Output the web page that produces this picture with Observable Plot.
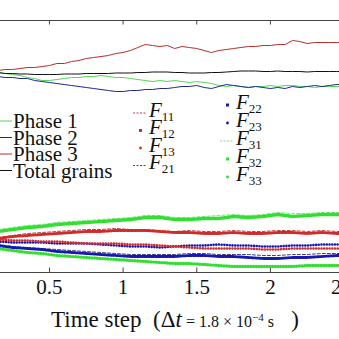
<!DOCTYPE html>
<html><head><meta charset="utf-8">
<script src="https://cdn.jsdelivr.net/npm/d3@7"></script>
<script src="https://cdn.jsdelivr.net/npm/@observablehq/plot@0.6"></script>
<style>
html,body{margin:0;padding:0;background:#fff;overflow:hidden;}
#cap{font-family:"Liberation Serif",serif;font-size:23px;height:37px;line-height:30px;padding-left:51px;white-space:nowrap;color:#111;}
#cap .s{font-size:16px;}
#cap sup{font-size:11px;}
svg text{font-family:"Liberation Serif",serif;}
</style></head><body>
<div id="chart"></div>
<div id="cap">Time step&nbsp;&nbsp;(Δ<i>t</i><span class="s"> = 1.8 × 10<sup>−4</sup> s</span>&nbsp;&nbsp;&nbsp;)</div>
<script>
// time grids
const topTime = d3.range(48).map(i => +(0.15 + 0.05 * i).toFixed(2));
const lowTime = d3.range(25).map(i => +(0.15 + 0.1 * i).toFixed(2));
const xTicks = [0.5, 1, 1.5, 2, 2.5];

// upper group (arbitrary units)
const phase1 = [20.0,19.9,19.8,19.7,19.5,19.4,19.2,19.2,19.3,19.4,19.5,19.5,19.6,19.6,19.7,19.6,19.5,19.5,19.4,19.3,19.2,19.1,19.2,19.1,19.2,19.1,19.0,19.1,19.0,18.9,18.7,18.6,18.7,18.6,18.5,18.6,18.6,18.7,18.6,18.7,18.7,18.6,18.6,18.5,18.6,18.6,18.6,18.6];
const phase2 = [19.6,19.5,19.5,19.4,19.4,19.2,19.1,19.0,18.9,18.8,18.7,18.6,18.5,18.4,18.3,18.2,18.1,18.1,18.2,18.2,18.3,18.3,18.4,18.4,18.5,18.6,18.6,18.7,18.5,18.4,18.6,18.8,18.7,18.6,18.5,18.6,18.5,18.4,18.5,18.4,18.6,18.5,18.6,18.7,18.6,18.7,18.8,18.8];
const phase3 = [20.2,20.3,20.3,20.4,20.5,20.5,20.6,20.7,20.9,20.9,21.1,21.2,21.4,21.5,21.6,21.7,21.9,22.0,22.2,22.5,22.8,22.7,22.6,22.7,22.4,22.6,22.5,22.4,22.2,22.0,22.2,22.3,22.4,22.5,22.6,22.6,22.7,22.7,22.8,22.8,23.2,23.1,22.9,23.0,23.0,23.0,23.0,23.0];
const total  = [20.0,19.9,19.9,19.85,19.85,19.8,19.8,19.8,19.8,19.85,19.85,19.85,19.9,19.9,19.9,19.9,19.95,19.95,19.95,20.0,20.0,20.05,20.05,20.05,20.0,20.0,19.95,19.95,19.95,20.0,20.0,20.05,20.1,20.15,20.15,20.15,20.1,20.1,20.15,20.1,20.1,20.1,20.05,20.1,20.1,20.1,20.1,20.1];

// lower group
const F11 = [3.5,3.7,3.9,4.0,4.1,4.2,4.3,4.3,4.4,4.3,4.3,4.2,4.1,4.2,4.1,4.1,4.2,4.1,4.1,4.2,4.2,4.1,4.2,4.1,4.1];
const F12 = [3.4,3.6,3.7,3.8,3.9,4.0,4.1,4.1,4.2,4.2,4.2,4.1,4.0,4.0,3.9,3.9,4.0,3.9,3.9,4.0,4.0,3.9,4.0,3.9,3.9];
const F13 = [3.3,3.2,3.2,3.1,3.1,3.0,2.9,2.9,2.9,2.8,2.8,2.7,2.6,2.5,2.4,2.4,2.4,2.4,2.3,2.3,2.4,2.4,2.4,2.4,2.4];
const F21 = [2.8,2.6,2.5,2.4,2.3,2.2,2.1,2.0,1.9,1.8,1.8,1.8,1.8,1.9,1.9,1.8,1.8,1.8,1.7,1.7,1.8,1.8,1.9,1.9,1.9];
const F22 = [2.7,2.5,2.4,2.3,2.1,2.0,1.9,1.8,1.7,1.6,1.6,1.6,1.6,1.7,1.7,1.6,1.6,1.5,1.4,1.4,1.5,1.5,1.6,1.7,1.7];
const F23 = [3.1,3.0,3.0,3.0,2.9,2.9,2.9,2.8,2.7,2.6,2.6,2.5,2.6,2.7,2.7,2.8,2.7,2.7,2.6,2.6,2.7,2.7,2.8,2.8,2.8];
const F31 = [4.3,4.5,4.7,4.8,5.0,5.1,5.2,5.3,5.4,5.5,5.7,5.7,5.5,5.5,5.6,5.7,5.8,5.7,5.8,6.0,5.9,5.9,6.0,6.0,6.0];
const F32 = [4.1,4.3,4.5,4.6,4.8,4.9,5.0,5.1,5.2,5.3,5.5,5.5,5.3,5.3,5.4,5.4,5.6,5.5,5.6,5.8,5.6,5.7,5.8,5.8,5.8];
const F33 = [2.4,2.2,2.0,1.9,1.7,1.6,1.5,1.4,1.3,1.2,1.1,1.0,0.9,0.9,0.8,0.7,0.6,0.6,0.6,0.6,0.6,0.7,0.7,0.7,0.7];

const phaseLabels = ["Phase 1", "Phase 2", "Phase 3", "Total grains"];
const phaseColors = ["#55d655", "#1c2a8c", "#b3302c", "#111111"];
const phaseSeries = [phase1, phase2, phase3, total];

const red = "#d02a2a", blue = "#1818b0", navy = "#22287a", green = "#30e030", lgreen = "#6fdc6f";
const fSeries = [
  {name: "11", v: F11, color: "#b02a2a", kind: "dash"},
  {name: "12", v: F12, color: red, kind: "square"},
  {name: "13", v: F13, color: red, kind: "dot"},
  {name: "21", v: F21, color: navy, kind: "dash"},
  {name: "22", v: F22, color: blue, kind: "square"},
  {name: "23", v: F23, color: blue, kind: "dot"},
  {name: "31", v: F31, color: lgreen, kind: "dash"},
  {name: "32", v: F32, color: green, kind: "square"},
  {name: "33", v: F33, color: green, kind: "dot"}
];

function styleOf(s) {
  const isG = s.color === green;
  if (s.kind === "dash") return {strokeWidth: 0.9, strokeDasharray: "3,2"};
  if (s.kind === "square") return {strokeWidth: isG ? 3.4 : 2.8, strokeDasharray: isG ? "2.6,0.8" : "2.4,1.1"};
  return {strokeWidth: isG ? 3.4 : 2.6, strokeDasharray: "0,2.7", strokeLinecap: "round"};
}

const marks = [
  Plot.ruleY([0, 25.2], {stroke: "#444", strokeWidth: 1}),
  Plot.ruleX(xTicks, {x: d => d, y1: 0, y2: 0.45, stroke: "#444"}),
  Plot.ruleX(xTicks, {x: d => d, y1: 25.2, y2: 24.75, stroke: "#444"}),
  Plot.axisX({ticks: xTicks, tickSize: 0, tickPadding: 7, fontSize: 21, tickFormat: d => String(d), label: null})
];
// draw lower group: green first (back), then blue, red
[6,7,8,3,4,5,0,1,2].forEach(i => {
  const s = fSeries[i];
  marks.push(Plot.line(s.v, {x: (d, j) => lowTime[j], y: d => d, stroke: s.color, clip: true, curve: "linear", ...styleOf(s)}));
});
phaseSeries.forEach((vals, i) => {
  marks.push(Plot.line(vals, {x: (d, j) => topTime[j], y: d => d, stroke: phaseColors[i], strokeWidth: 1, clip: true}));
});

const plot = Plot.plot({
  width: 339, height: 302,
  marginLeft: 0, marginRight: 0, marginTop: 20, marginBottom: 30,
  x: {domain: [0.1677, 2.469]},
  y: {domain: [0, 25.2], axis: null},
  style: {background: "#fff", fontFamily: "'Liberation Serif', serif", color: "#111"},
  marks
});
document.getElementById("chart").appendChild(plot);

// legend
const svg = d3.select(plot);
const g = svg.append("g").style("font-family", "'Liberation Serif', serif").attr("fill", "#111").attr("text-anchor", "start");
const phaseRowY = [121, 137.5, 154, 170.5];
phaseLabels.forEach((lab, i) => {
  const y = phaseRowY[i];
  g.append("line").attr("x1", -5).attr("x2", 12).attr("y1", y).attr("y2", y).attr("stroke", phaseColors[i]).attr("stroke-width", 1);
  g.append("text").attr("x", 13).attr("y", y).attr("dy", "0.35em").attr("font-size", 21).attr("text-anchor", "start").text(lab);
});
const fCols = [
  {x: 133, rows: [113, 130.5, 148, 165.5], idx: [0, 1, 2, 3]},
  {x: 220, rows: [105, 123, 141, 159, 177], idx: [4, 5, 6, 7, 8]}
];
fCols.forEach(col => {
  col.idx.forEach((k, r) => {
    const s = fSeries[k], y = col.rows[r], x0 = col.x;
    if (s.kind === "dash") {
      g.append("line").attr("x1", x0).attr("x2", x0 + 14).attr("y1", y).attr("y2", y)
        .attr("stroke", s.color).attr("stroke-width", 0.9).attr("stroke-dasharray", "2,1.5");
    } else if (s.kind === "square") {
      g.append("rect").attr("x", x0 + 6).attr("y", y - 1.5).attr("width", 3).attr("height", 3).attr("fill", s.color);
    } else {
      g.append("circle").attr("cx", x0 + 7.5).attr("cy", y).attr("r", 1.4).attr("fill", s.color);
    }
    const t = g.append("text").attr("x", x0 + 16).attr("y", y).attr("dy", "0.35em").attr("text-anchor", "start");
    t.append("tspan").attr("font-size", 21).attr("font-style", "italic").text("F");
    t.append("tspan").attr("font-size", 13).attr("dy", 4).text(s.name);
  });
});
</script>
</body></html>
